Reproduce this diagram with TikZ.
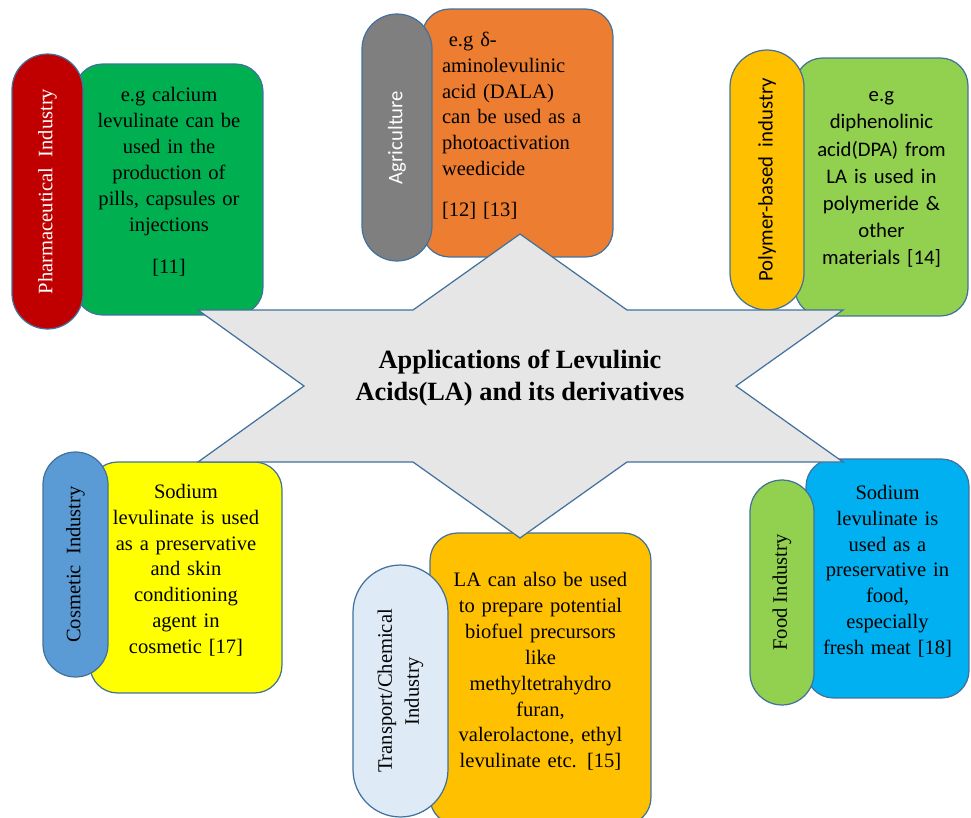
\documentclass[tikz,border=0pt]{standalone}
\usepackage{fontspec}
\setmainfont{Liberation Serif}
\newfontfamily\calibri{Carlito}
\usepackage{tikz}
\usetikzlibrary{positioning}

\definecolor{edgeblue}{HTML}{41719C}
\definecolor{hexgray}{HTML}{E7E6E6}
\definecolor{pharmared}{HTML}{C00000}
\definecolor{pharmagreen}{HTML}{00B050}
\definecolor{agrigray}{HTML}{7F7F7F}
\definecolor{agriorange}{HTML}{ED7D31}
\definecolor{polygold}{HTML}{FFC000}
\definecolor{polygreen}{HTML}{92D050}
\definecolor{cosblue}{HTML}{5B9BD5}
\definecolor{cosyellow}{HTML}{FFFF00}
\definecolor{transpale}{HTML}{DEEBF7}
\definecolor{transgold}{HTML}{FFC000}
\definecolor{foodgreen}{HTML}{92D050}
\definecolor{foodblue}{HTML}{00B0F0}

\newcommand{\lowpad}{\rule[-10pt]{0pt}{0pt}}

\tikzset{
  info/.style={draw=edgeblue, line width=0.7pt, rectangle, rounded corners=0.55cm, inner sep=0pt, align=center, text width=#1},
  pill/.style={draw=edgeblue, line width=0.7pt, rectangle, rotate=90, rounded corners=#1, minimum height=2*#1, inner sep=0pt, align=center},
  hexfill/.style={draw=edgeblue, line width=0.7pt, fill=hexgray},
  sans/.style={font=\calibri\fontsize{11.8}{15.5}\selectfont}
}

\begin{document}
\begin{tikzpicture}[x=0.02cm, y=-0.02cm, font=\fontsize{11.7}{14.7}\selectfont]
  \useasboundingbox (0,0) rectangle (971,818);
  \clip (0,0) rectangle (971,818);

    \node[info=3.1cm, fill=pharmagreen, minimum width=3.76cm, minimum height=5.02cm] (pharmabox) at (169,189.5) {e.g calcium\\levulinate can be\\used in the\\production of\\pills, capsules or\\injections\\[9.6pt][11]\lowpad};
    \node[info=3.02cm, align=left, fill=agriorange, minimum width=3.82cm, minimum height=4.96cm] (agribox) at (517.5,133) {\ e.g δ-\\aminolevulinic\\acid (DALA)\\can be used as a\\photoactivation\\weedicide\\[8.5pt][12] [13]\lowpad};
    \node[info=3.3cm, sans, fill=polygreen, minimum width=3.46cm, minimum height=5.16cm] (polybox) at (881.5,187) {e.g\\diphenolinic\\acid(DPA) from\\LA is used in\\polymeride \&\\other\\materials [14]\lowpad};
    \node[info=3.3cm, fill=cosyellow, minimum width=3.84cm, minimum height=4.62cm] (cosbox) at (186,577.5) {Sodium\\levulinate is used\\as a preservative\\and skin\\conditioning\\agent in\\cosmetic [17]\lowpad};
    \node[info=4cm, fill=transgold, minimum width=4.42cm, minimum height=5.84cm] (transbox) at (540.5,679) {LA can also be used\\to prepare potential\\biofuel precursors\\like\\methyltetrahydro\\furan,\\valerolactone, ethyl\\levulinate etc. [15]\lowpad};
    \node[info=3cm, fill=foodblue, minimum width=3.26cm, minimum height=4.78cm] (foodbox) at (887.5,578.5) {Sodium\\levulinate is\\used as a\\preservative in\\food,\\especially\\fresh meat [18]\lowpad};

    \node[pill=0.71cm, fill=pharmared, text=white, minimum width=5.5cm] (pharma) at (47.5,191.5) {Pharmaceutical\ \ Industry};
    \node[pill=0.7cm, sans, fill=agrigray, text=white, minimum width=4.94cm] (agri) at (397,137.5) {Agriculture};
    \node[pill=0.74cm, sans, fill=polygold, minimum width=5.2cm] (poly) at (767,180) {Polymer-based\ \ industry};
    \node[pill=0.65cm, fill=cosblue, minimum width=4.5cm] (cosmetic) at (75.5,564.5) {Cosmetic\ \ Industry};
    \node[pill=0.95cm, fill=transpale, minimum width=5.04cm, font=\fontsize{11.7}{15.3}\selectfont] (transport) at (400.5,691) {Transport/Chemical\\Industry};
    \node[pill=0.64cm, fill=foodgreen, minimum width=4.5cm] (food) at (782,592.5) {Food Industry};

    \draw[hexfill] (198,310) -- (413,310) -- (520,234) -- (627,310) -- (843,310) -- (736,386) -- (843,462) -- (627,462) -- (520,538) -- (413,462) -- (198,462) -- (304,386) -- cycle;
    \node[font=\bfseries\fontsize{15}{18.7}\selectfont, align=center] (title) at (520,378) {Applications of Levulinic\\Acids(LA) and its derivatives};

\end{tikzpicture}
\end{document}
